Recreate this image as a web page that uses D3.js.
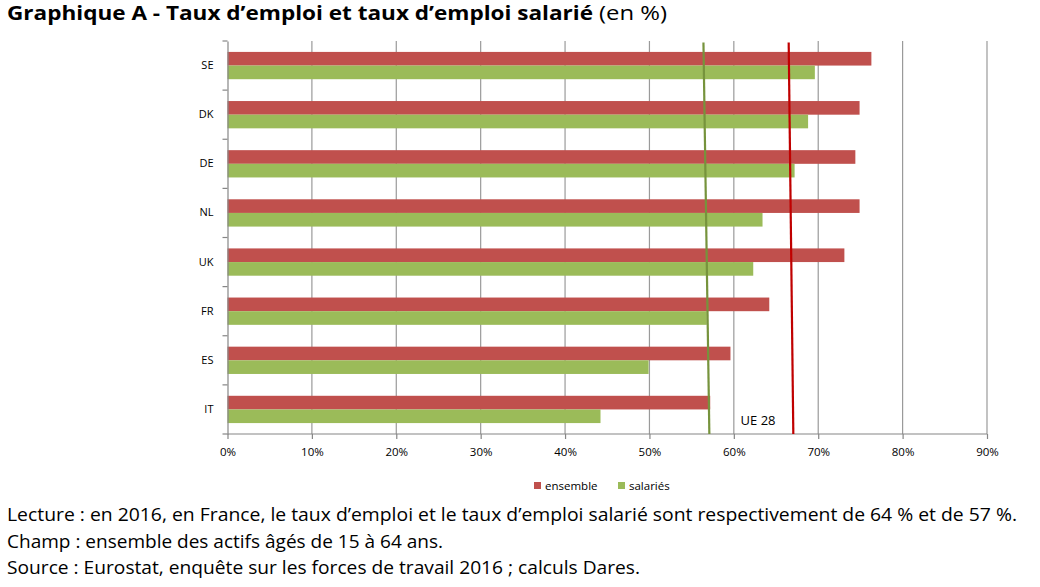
<!DOCTYPE html>
<html>
<head>
<meta charset="utf-8">
<script src="https://cdn.jsdelivr.net/npm/d3@7"></script>
<style>
  body { margin: 0; background: #fff; }
  svg text { font-family: "Open Sans", "Liberation Sans", sans-serif; }
</style>
</head>
<body>
<div id="chart"></div>
<script>

// donnees (en %)
var countries = ["SE", "DK", "DE", "NL", "UK", "FR", "ES", "IT"];
var series = ["ensemble", "salariés"];
var ensembleValues = [76.3, 74.9, 74.4, 74.9, 73.1, 64.2, 59.6, 57.2];
var salariesValues = [69.6, 68.8, 67.2, 63.4, 62.3, 56.8, 49.9, 44.2];
// lignes UE 28 : valeur en haut / en bas du graphique (traits legerement penches)
var ue28Top = [66.5, 56.4];
var ue28Bottom = [67.05, 57.1];
var xTicks = [0, 10, 20, 30, 40, 50, 60, 70, 80, 90];

var footnotes = [
	"Lecture : en 2016, en France, le taux d\u2019emploi et le taux d\u2019emploi salarié sont respectivement de 64 % et de 57 %.",
	"Champ : ensemble des actifs âgés de 15 à 64 ans.",
	"Source : Eurostat, enquête sur les forces de travail 2016 ; calculs Dares."
];
var footWidths = [1010, 436, 633];

var w = 1040;
var h = 587;

var barColors = {"ensemble": "#c0504d", "salariés": "#9bbb59"};
var lineColors = {"ensemble": "#c00000", "salariés": "#76933c"};

var svg = d3.select("#chart").append("svg")
	.attr("width", w)
	.attr("height", h);

// titre
var title = svg.append("text")
	.attr("x", 7)
	.attr("y", 20)
	.attr("font-size", 20)
	.style("fill", "#000");
title.append("tspan")
	.attr("font-weight", "bold")
	.attr("textLength", 586)
	.attr("lengthAdjust", "spacingAndGlyphs")
	.text("Graphique A - Taux d\u2019emploi et taux d\u2019emploi salarié");
title.append("tspan")
	.attr("dx", 6)
	.attr("textLength", 68)
	.attr("lengthAdjust", "spacingAndGlyphs")
	.text("(en %)");

// echelles
var x = d3.scaleLinear()
	.domain([0, 90])
	.range([227.5, 987]);

var y = d3.scaleBand()
	.domain(countries)
	.range([41, 434])
	.padding(0);

var ySub = d3.scaleBand()
	.domain(series)
	.range([0, y.bandwidth()])
	.paddingInner(0)
	.paddingOuter(0.8);

var rows = countries.map(function(c, i){
	return {country: c, values: [
		{serie: "ensemble", value: ensembleValues[i]},
		{serie: "salariés", value: salariesValues[i]}
	]};
});

// grille verticale
svg.append("g")
	.selectAll("line")
	.data(xTicks.slice(1))
	.enter().append("line")
	.attr("x1", function(d){ return x(d); })
	.attr("x2", function(d){ return x(d); })
	.attr("y1", y.range()[0])
	.attr("y2", y.range()[1])
	.style("stroke", "#9a9a9a")
	.style("stroke-width", 1.2);

// barres
var groups = svg.append("g")
	.selectAll("g")
	.data(rows)
	.enter().append("g")
	.attr("transform", function(d){ return "translate(0," + y(d.country) + ")"; });

groups.selectAll("rect")
	.data(function(d){ return d.values; })
	.enter().append("rect")
	.attr("x", x(0))
	.attr("y", function(d){ return ySub(d.serie); })
	.attr("width", function(d){ return x(d.value) - x(0); })
	.attr("height", ySub.bandwidth())
	.style("fill", function(d){ return barColors[d.serie]; });

// axe vertical (pays)
var yAxis = d3.axisLeft(y).tickSize(0).tickPadding(14);
var gy = svg.append("g")
	.attr("transform", "translate(" + x(0) + ",0)")
	.call(yAxis);
gy.select(".domain").style("stroke", "#868686").style("stroke-width", 1.2);
gy.selectAll("text").attr("font-size", 11).style("fill", "#000");

// petits traits entre les pays
var bounds = countries.map(function(c){ return y(c); }).concat([y.range()[1]]);
svg.append("g")
	.selectAll("line")
	.data(bounds)
	.enter().append("line")
	.attr("x1", x(0) - 5)
	.attr("x2", x(0))
	.attr("y1", function(d){ return d; })
	.attr("y2", function(d){ return d; })
	.style("stroke", "#868686")
	.style("stroke-width", 1.2);

// axe horizontal
var xAxis = d3.axisBottom(x)
	.tickValues(xTicks)
	.tickSize(5)
	.tickPadding(9)
	.tickFormat(function(d){ return d + "%"; });
var gx = svg.append("g")
	.attr("transform", "translate(0," + y.range()[1] + ")")
	.call(xAxis);
gx.select(".domain").remove();
gx.selectAll("line").style("stroke", "#868686").style("stroke-width", 1.2);
gx.selectAll("text").attr("font-size", 11.5).style("fill", "#000");
svg.append("line")
	.attr("x1", x(0))
	.attr("x2", x(90))
	.attr("y1", y.range()[1])
	.attr("y2", y.range()[1])
	.style("stroke", "#868686")
	.style("stroke-width", 1.2);

// lignes UE 28
var ueData = series.map(function(s, i){
	return {serie: s, top: ue28Top[i], bottom: ue28Bottom[i]};
});
svg.append("g")
	.selectAll("line")
	.data(ueData)
	.enter().append("line")
	.attr("x1", function(d){ return x(d.top); })
	.attr("x2", function(d){ return x(d.bottom); })
	.attr("y1", y.range()[0] + 1.5)
	.attr("y2", y.range()[1])
	.style("stroke", function(d){ return lineColors[d.serie]; })
	.style("stroke-width", 2.2);

svg.append("text")
	.attr("x", x(60.8))
	.attr("y", 425)
	.attr("font-size", 13)
	.style("fill", "#000")
	.text("UE 28");

// legende
var legend = svg.append("g")
	.attr("transform", "translate(534,482)");
var legendX = [0, 84];
series.forEach(function(s, i){
	legend.append("rect")
		.attr("x", legendX[i])
		.attr("y", 0)
		.attr("width", 7)
		.attr("height", 7)
		.style("fill", barColors[s]);
	legend.append("text")
		.attr("x", legendX[i] + 11)
		.attr("y", 7.5)
		.attr("font-size", 11.5)
		.style("fill", "#000")
		.text(s);
});

// notes de lecture
svg.append("g")
	.selectAll("text")
	.data(footnotes)
	.enter().append("text")
	.attr("x", 7)
	.attr("y", function(d, i){ return 521 + i * 26.5; })
	.attr("font-size", 17.5)
	.attr("textLength", function(d, i){ return footWidths[i]; })
	.attr("lengthAdjust", "spacingAndGlyphs")
	.style("fill", "#000")
	.text(function(d){ return d; });

</script>
</body>
</html>
